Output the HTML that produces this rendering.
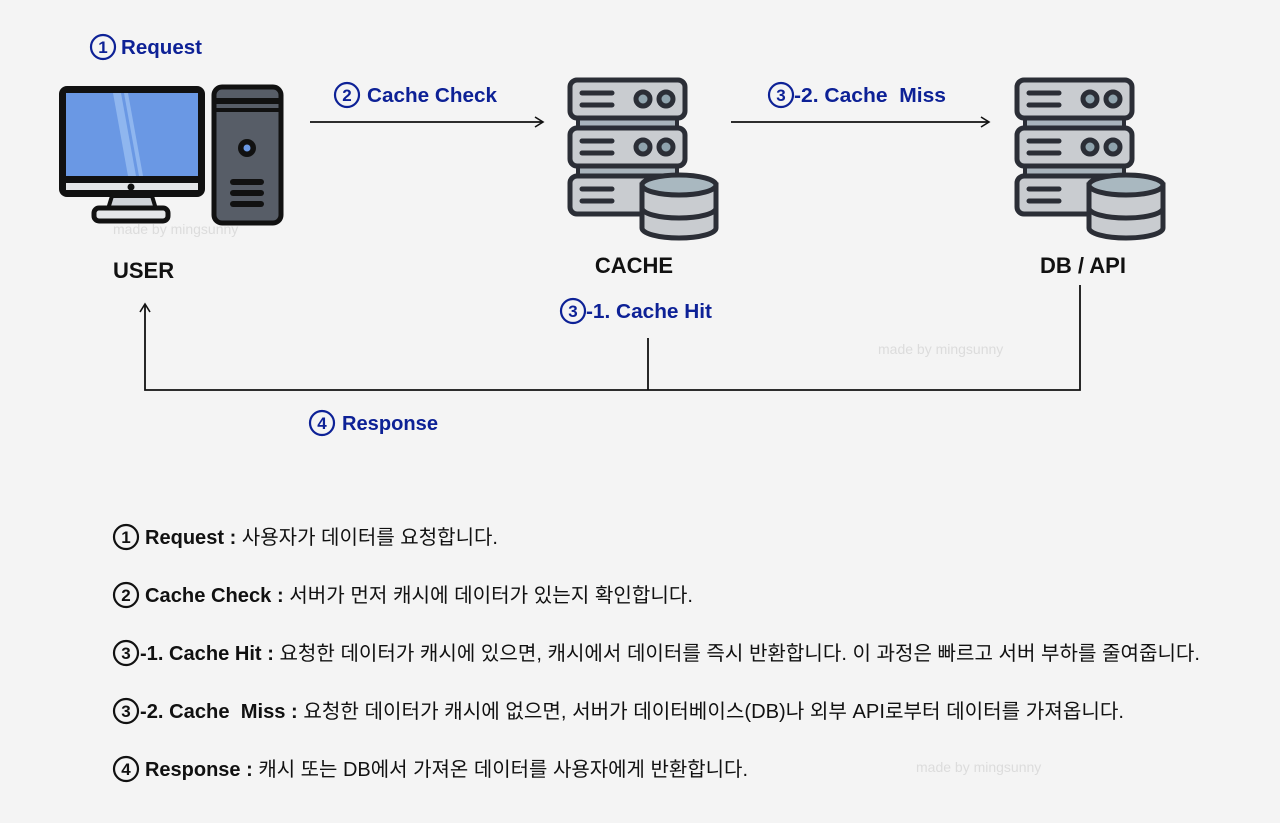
<!DOCTYPE html>
<html><head><meta charset="utf-8"><style>
html,body{margin:0;padding:0;background:#f4f4f4;}
svg{display:block;font-family:"Liberation Sans","Noto Sans CJK KR",sans-serif;}
.lb{font-size:20px;font-weight:bold;fill:#0d2196;}
.nm{font-size:22px;font-weight:bold;fill:#111;}
.bt{font-size:20px;fill:#111;}
.wm{font-size:14px;fill:#dcdcdc;}
</style></head><body>
<svg width="1280" height="823" viewBox="0 0 1280 823" xmlns="http://www.w3.org/2000/svg">
<defs>
<g id="srv">
  <rect x="10" y="40" width="99" height="12" fill="#a9b4bc" stroke="#2b2e36" stroke-width="4"/>
  <rect x="10" y="88" width="99" height="12" fill="#a9b4bc" stroke="#2b2e36" stroke-width="4"/>
  <rect x="2" y="2" width="115" height="38" rx="7" fill="#c9ccd0" stroke="#2b2e36" stroke-width="5"/>
  <rect x="2" y="50" width="115" height="38" rx="7" fill="#c9ccd0" stroke="#2b2e36" stroke-width="5"/>
  <rect x="2" y="98" width="115" height="38" rx="7" fill="#c9ccd0" stroke="#2b2e36" stroke-width="5"/>
  <g stroke="#2b2e36" stroke-width="5" stroke-linecap="round">
    <line x1="14" y1="15" x2="44" y2="15"/><line x1="14" y1="27" x2="44" y2="27"/>
    <line x1="14" y1="63" x2="44" y2="63"/><line x1="14" y1="75" x2="44" y2="75"/>
    <line x1="14" y1="111" x2="44" y2="111"/><line x1="14" y1="123" x2="44" y2="123"/>
  </g>
  <g fill="#8fa3ad" stroke="#2b2e36" stroke-width="5">
    <circle cx="75" cy="21" r="7"/><circle cx="98" cy="21" r="7"/>
    <circle cx="75" cy="69" r="7"/><circle cx="98" cy="69" r="7"/>
  </g>
  <path d="M74 107 V150 A37 10 0 0 0 148 150 V107 Z" fill="#c9ccd0" stroke="#2b2e36" stroke-width="5"/>
  <path d="M74 130 A37 10 0 0 0 148 130" fill="none" stroke="#2b2e36" stroke-width="5"/>
  <ellipse cx="111" cy="107" rx="37" ry="10" fill="#a9b8c0" stroke="#2b2e36" stroke-width="5"/>
</g>
<marker id="ah" markerWidth="12" markerHeight="12" refX="10" refY="6" orient="auto" markerUnits="userSpaceOnUse">
  <path d="M2 1 L10 6 L2 11" fill="none" stroke="#111" stroke-width="1.6"/>
</marker>
</defs>

<!-- User computer -->
<rect x="59" y="86" width="146" height="111" rx="8" fill="#111"/>
<rect x="66" y="93" width="132" height="83" fill="#6a98e4"/>
<polygon points="113,93 121,93 136,176 128,176" fill="#8fb6ef"/>
<polygon points="124,93 128,93 143,176 139,176" fill="#8fb6ef"/>
<rect x="66" y="183" width="132" height="7" fill="#e4e6e8"/>
<circle cx="131" cy="187" r="3.5" fill="#111"/>
<polygon points="112,196 152,196 156,209 108,209" fill="#cfd3d8" stroke="#111" stroke-width="4"/>
<rect x="94" y="208" width="74" height="13" rx="5" fill="#e4e6e8" stroke="#111" stroke-width="5"/>
<rect x="214" y="87" width="67" height="136" rx="8" fill="#575d67" stroke="#111" stroke-width="5"/>
<rect x="216" y="98" width="63" height="6" fill="#111"/>
<rect x="216" y="108" width="63" height="4" fill="#111"/>
<circle cx="247" cy="148" r="9" fill="#111"/><circle cx="247" cy="148" r="3.5" fill="#6a98e4"/>
<g stroke="#111" stroke-width="6" stroke-linecap="round">
<line x1="233" y1="182" x2="261" y2="182"/><line x1="233" y1="193" x2="261" y2="193"/><line x1="233" y1="204" x2="261" y2="204"/>
</g>

<use href="#srv" x="568" y="78"/>
<use href="#srv" x="1015" y="78"/>

<g stroke="#111" stroke-width="1.8" fill="none">
<line x1="310" y1="122" x2="543" y2="122" marker-end="url(#ah)"/>
<line x1="731" y1="122" x2="989" y2="122" marker-end="url(#ah)"/>
<polyline points="1080,285 1080,390 145,390 145,304" marker-end="url(#ah)"/>
<line x1="648" y1="338" x2="648" y2="390"/>
</g>

<text class="wm" x="113" y="234">made by mingsunny</text>
<text class="wm" x="878" y="354">made by mingsunny</text>
<text class="wm" x="916" y="772">made by mingsunny</text>

<g fill="none" stroke="#0d2196" stroke-width="2.2">
<circle cx="103" cy="47" r="12"/><circle cx="347" cy="95" r="12"/><circle cx="781" cy="95" r="12"/>
<circle cx="573" cy="311" r="12"/><circle cx="322" cy="423" r="12"/>
</g>
<g text-anchor="middle" font-size="17" font-weight="bold" fill="#0d2196">
<text x="103" y="53">1</text>
<text x="347" y="101">2</text>
<text x="781" y="101">3</text>
<text x="573" y="317">3</text>
<text x="322" y="429">4</text>
</g>
<text class="lb" x="121" y="54" textLength="81" lengthAdjust="spacingAndGlyphs">Request</text>
<text class="lb" x="367" y="102" textLength="130" lengthAdjust="spacingAndGlyphs">Cache Check</text>
<text class="lb" x="794" y="102" xml:space="preserve" textLength="152" lengthAdjust="spacingAndGlyphs">-2. Cache  Miss</text>
<text class="lb" x="586" y="318" textLength="126" lengthAdjust="spacingAndGlyphs">-1. Cache Hit</text>
<text class="lb" x="342" y="430" textLength="96" lengthAdjust="spacingAndGlyphs">Response</text>

<text class="nm" x="113" y="278">USER</text>
<text class="nm" x="634" y="273" text-anchor="middle">CACHE</text>
<text class="nm" x="1083" y="273" text-anchor="middle">DB / API</text>

<g fill="none" stroke="#111" stroke-width="2.2">
<circle cx="126" cy="537" r="12"/><circle cx="126" cy="595" r="12"/><circle cx="126" cy="653" r="12"/>
<circle cx="126" cy="711" r="12"/><circle cx="126" cy="769" r="12"/>
</g>
<g font-size="17" font-weight="bold" fill="#111" text-anchor="middle">
<text x="126" y="543">1</text><text x="126" y="601">2</text><text x="126" y="659">3</text>
<text x="126" y="717">3</text><text x="126" y="775">4</text>
</g>
<text class="bt" x="145" y="544" textLength="353" lengthAdjust="spacingAndGlyphs"><tspan font-weight="bold">Request :</tspan> 사용자가 데이터를 요청합니다.</text>
<text class="bt" x="145" y="602" textLength="548" lengthAdjust="spacingAndGlyphs"><tspan font-weight="bold">Cache Check :</tspan> 서버가 먼저 캐시에 데이터가 있는지 확인합니다.</text>
<text class="bt" x="140" y="660" textLength="1060" lengthAdjust="spacingAndGlyphs"><tspan font-weight="bold">-1. Cache Hit :</tspan> 요청한 데이터가 캐시에 있으면, 캐시에서 데이터를 즉시 반환합니다. 이 과정은 빠르고 서버 부하를 줄여줍니다.</text>
<text class="bt" x="140" y="718" xml:space="preserve" textLength="984" lengthAdjust="spacingAndGlyphs"><tspan font-weight="bold">-2. Cache  Miss :</tspan> 요청한 데이터가 캐시에 없으면, 서버가 데이터베이스(DB)나 외부 API로부터 데이터를 가져옵니다.</text>
<text class="bt" x="145" y="776" textLength="603" lengthAdjust="spacingAndGlyphs"><tspan font-weight="bold">Response :</tspan> 캐시 또는 DB에서 가져온 데이터를 사용자에게 반환합니다.</text>
</svg>
</body></html>
